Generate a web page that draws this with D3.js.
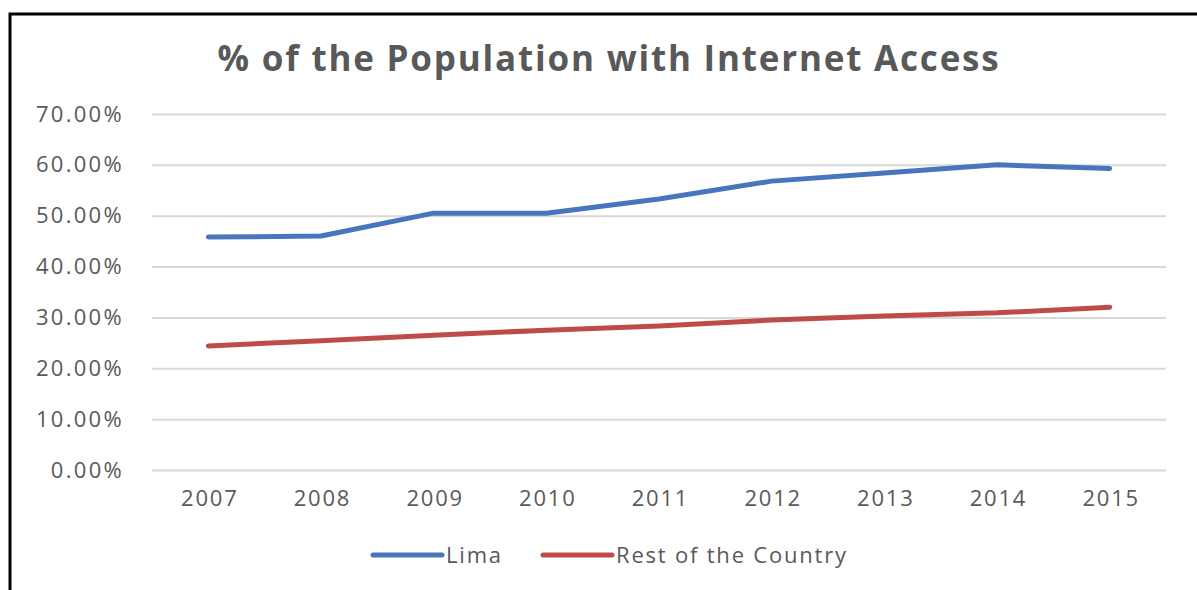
<!DOCTYPE html>
<html>
<head>
<meta charset="utf-8">
<script src="https://cdn.jsdelivr.net/npm/d3@7"></script>
<style>
  body { margin: 0; background: #fff; }
  svg { display: block; }
</style>
</head>
<body>
<div id="line-chart"><svg></svg></div>
<script>
// data
var years = ["2007", "2008", "2009", "2010", "2011", "2012", "2013", "2014", "2015"];
var lima = [45.8, 46.0, 50.5, 50.5, 53.3, 56.8, 58.4, 60.0, 59.3];
var restOfCountry = [24.4, 25.4, 26.5, 27.5, 28.3, 29.5, 30.3, 30.9, 32.0];
var yTicks = [0, 10, 20, 30, 40, 50, 60, 70];
var seriesNames = ["Lima", "Rest of the Country"];
var seriesColors = ["#4776bd", "#be4b48"];

var series = [lima, restOfCountry].map(function (vals, i) {
    return {
        name: seriesNames[i],
        color: seriesColors[i],
        values: vals.map(function (v, j) { return {year: years[j], value: v}; })
    };
});

var W = 1197, H = 590;
var margin = {top: 114, right: 31, bottom: 120, left: 152},
    width = W - margin.left - margin.right,
    height = H - margin.top - margin.bottom;

var font = "'Open Sans', sans-serif";

var svg = d3.select("#line-chart").select("svg")
    .attr("width", W)
    .attr("height", H);

// outer frame
svg.append("rect")
    .attr("x", 10).attr("y", 14)
    .attr("width", W + 20).attr("height", H + 20)
    .attr("fill", "#fff")
    .attr("stroke", "#000")
    .attr("stroke-width", 3);

// title
svg.append("text")
    .attr("x", 609).attr("y", 71)
    .attr("text-anchor", "middle")
    .attr("font-family", font)
    .attr("font-weight", "bold")
    .attr("font-size", 35)
    .attr("letter-spacing", 1.8)
    .attr("fill", "#595959")
    .text("% of the Population with Internet Access");

var g = svg.append("g")
    .attr("transform", "translate(" + margin.left + "," + margin.top + ")");

var x = d3.scalePoint().domain(years).range([0, width]).padding(0.5);
var y = d3.scaleLinear().domain([0, 70]).range([height, 0]);

// gridlines + y labels
var yAxis = g.append("g")
    .call(d3.axisLeft(y).tickValues(yTicks).tickSize(-width)
        .tickFormat(function (d) { return d.toFixed(2) + "%"; }));
yAxis.select(".domain").remove();
yAxis.selectAll(".tick line").attr("stroke", "#d9d9d9").attr("stroke-width", 2);
yAxis.selectAll(".tick text")
    .attr("x", -28)
    .attr("font-family", font)
    .attr("font-size", 22)
    .attr("letter-spacing", 2.3)
    .attr("fill", "#595959");

// x labels
var xAxis = g.append("g")
    .attr("transform", "translate(0," + height + ")")
    .call(d3.axisBottom(x).tickSize(0).tickPadding(20));
xAxis.select(".domain").remove();
xAxis.selectAll(".tick text")
    .attr("dx", 1)
    .attr("font-family", font)
    .attr("font-size", 22)
    .attr("letter-spacing", 1.8)
    .attr("fill", "#595959");

// the lines
var line = d3.line()
    .x(function (d) { return x(d.year); })
    .y(function (d) { return y(d.value); });

g.selectAll(".series")
    .data(series)
    .enter().append("path")
    .attr("class", "series")
    .attr("fill", "none")
    .attr("stroke", function (d) { return d.color; })
    .attr("stroke-width", 5)
    .attr("stroke-linejoin", "round")
    .attr("stroke-linecap", "round")
    .attr("d", function (d) { return line(d.values); });

// legend
var legendX = [373, 543];
var legend = svg.append("g").attr("transform", "translate(0,555)");
var items = legend.selectAll(".item")
    .data(series)
    .enter().append("g")
    .attr("class", "item")
    .attr("transform", function (d, i) { return "translate(" + legendX[i] + ",0)"; });
items.append("line")
    .attr("x1", 0).attr("x2", 69)
    .attr("stroke", function (d) { return d.color; })
    .attr("stroke-width", 5)
    .attr("stroke-linecap", "round");
items.append("text")
    .attr("x", 73).attr("dy", "0.35em")
    .attr("font-family", font)
    .attr("font-size", 22)
    .attr("letter-spacing", 1.8)
    .attr("fill", "#595959")
    .text(function (d) { return d.name; });
</script>
</body>
</html>
